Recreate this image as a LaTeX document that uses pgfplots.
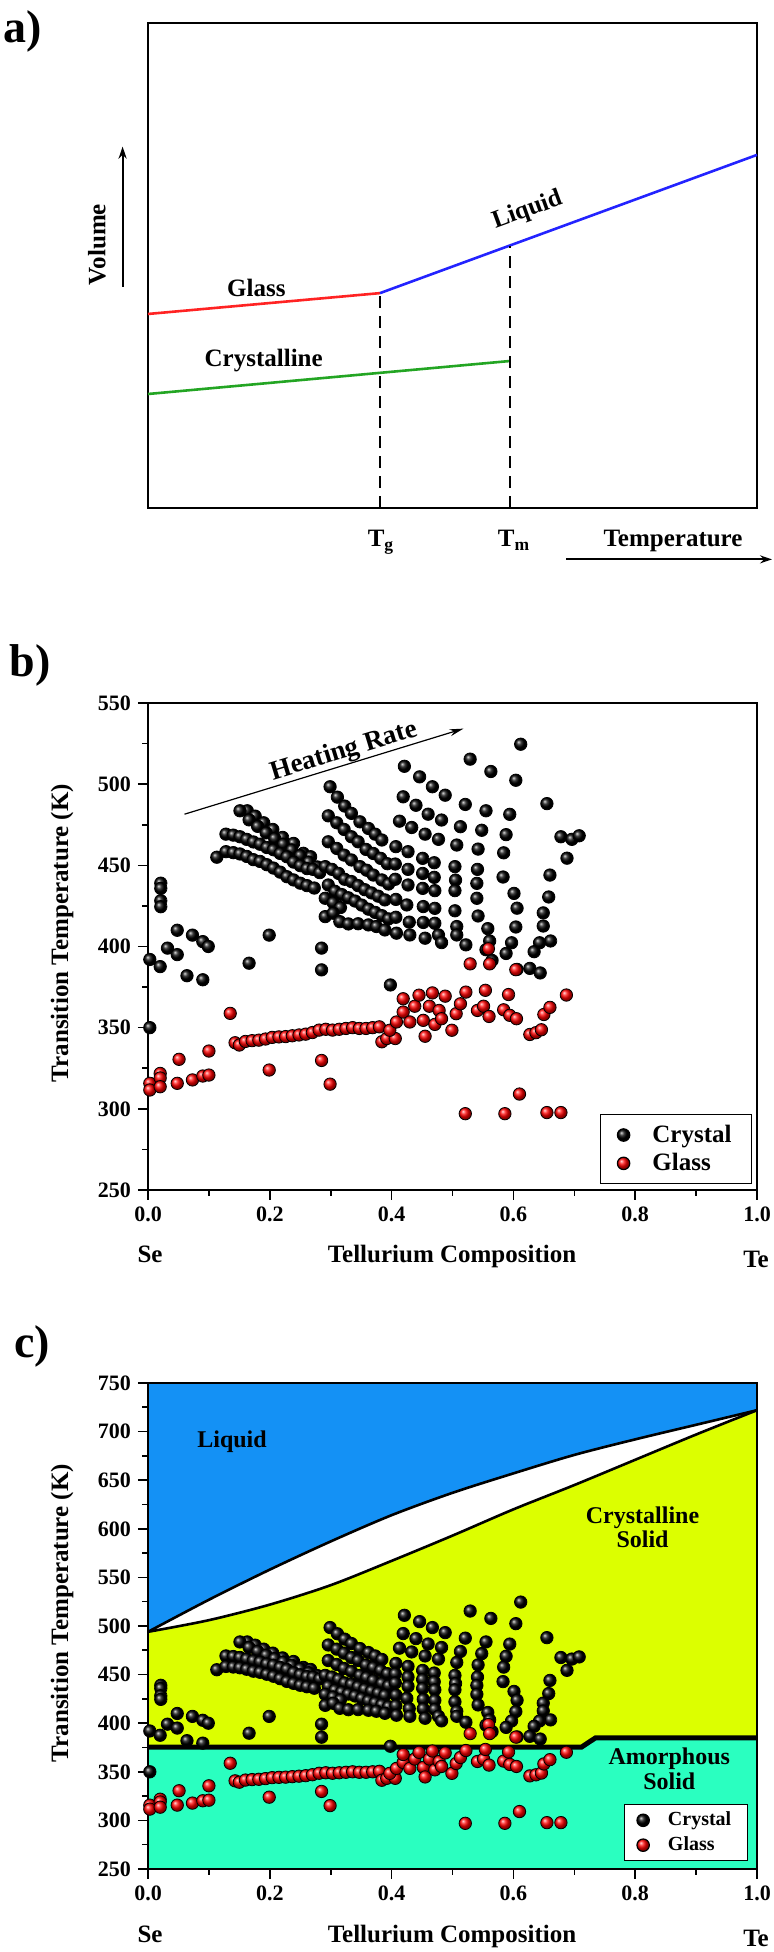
\documentclass[border=0pt]{standalone}
\usepackage{fontspec}
\setmainfont{Liberation Serif}
\usepackage{pgfplots}
\usepackage{pgfplotstable}
\pgfplotsset{compat=1.18}
\usetikzlibrary{plotmarks,arrows.meta}

\definecolor{cblue}{RGB}{20,145,245}
\definecolor{cyell}{RGB}{220,255,0}
\definecolor{cteal}{RGB}{42,255,192}
\definecolor{lred}{RGB}{255,35,35}
\definecolor{lblue}{RGB}{35,35,255}
\definecolor{lgreen}{RGB}{35,165,35}

\pgfplotstableread{
c T
0.003 392
0.003 350
0.021 439
0.021 435.8
0.021 428.2
0.021 424.5
0.020 387.6
0.032 399
0.048 410
0.048 395
0.064 382
0.073 407
0.090 403
0.099 400
0.090 379.5
0.166 389.7
0.199 407
0.285 399
0.285 385.6
0.398 376.3
0.163 483.6
0.176 480.3
0.190 476.2
0.205 472.1
0.221 467.2
0.239 463.5
0.255 457.4
0.267 455.3
0.151 483.6
0.166 478
0.180 474
0.194 470
0.208 466.5
0.222 463
0.236 459.5
0.250 456
0.264 452
0.278 449
0.128 469.2
0.140 468.6
0.151 467.6
0.162 466
0.173 464.4
0.184 463
0.195 461
0.206 459.6
0.217 457.3
0.228 455.3
0.239 452
0.250 449.8
0.261 448
0.271 447.5
0.282 445.5
0.113 455
0.128 458.4
0.140 457.8
0.151 457
0.162 455.5
0.173 453.5
0.184 452.4
0.195 450.4
0.206 448.3
0.217 445.8
0.228 443
0.239 441
0.250 439
0.261 437.5
0.273 436
0.299 498.4
0.311 492
0.323 486.5
0.334 482
0.348 476.8
0.362 472.7
0.373 469.2
0.384 465.6
0.296 480.5
0.310 476.2
0.322 472.1
0.334 467.6
0.345 464.5
0.358 459.8
0.370 457.3
0.382 454.3
0.393 451
0.296 464.5
0.310 460.4
0.322 456.3
0.334 453.3
0.348 449.2
0.359 447
0.370 444
0.384 441
0.395 438.5
0.291 449.2
0.302 447.5
0.313 445
0.323 441.4
0.334 440
0.345 437.5
0.356 435
0.367 433
0.378 431
0.389 428.7
0.296 437.9
0.307 434
0.318 432
0.329 430
0.340 428
0.351 425.5
0.362 423
0.373 421
0.384 419
0.395 417
0.291 429.7
0.304 427
0.316 424
0.291 418.4
0.304 420.5
0.315 415.3
0.329 413.9
0.345 414
0.362 413.3
0.375 412.3
0.389 410.2
0.421 511
0.446 504.5
0.467 498.4
0.488 493.2
0.419 492.2
0.440 487
0.460 481.5
0.482 477.9
0.413 477.2
0.433 473.3
0.455 469.2
0.477 466
0.407 461.5
0.427 458.4
0.451 454.3
0.470 451.6
0.406 450.8
0.427 447.5
0.451 445
0.470 442.6
0.406 441.4
0.427 437.9
0.451 435.8
0.471 434.4
0.407 429
0.425 425.6
0.452 424.6
0.471 423.5
0.407 418
0.429 415
0.452 414.8
0.471 414.3
0.408 408.2
0.430 407.1
0.455 405.1
0.477 407.1
0.482 402.4
0.529 515.4
0.521 487.5
0.513 473.8
0.507 462.5
0.504 449.2
0.505 440.9
0.504 434.4
0.504 422
0.507 412.3
0.507 407.1
0.522 401
0.563 507.8
0.555 483.6
0.548 471.6
0.542 460
0.541 447.5
0.540 438.9
0.540 429.7
0.542 418.8
0.558 411
0.561 403.4
0.555 398
0.565 391.4
0.612 524.6
0.604 502.4
0.594 481.4
0.588 468.9
0.584 457.7
0.583 442.8
0.601 432.7
0.606 423.6
0.604 412
0.597 402.3
0.588 395.7
0.606 385.9
0.655 488
0.660 444
0.658 430.5
0.649 420.7
0.649 412.6
0.661 403.4
0.643 402.3
0.634 396.8
0.627 386.5
0.644 383.7
0.678 467.6
0.696 466
0.708 468.2
0.688 454.4
}\crystal

\pgfplotstableread{
c T
0.003 315.7
0.003 311.6
0.020 321.8
0.020 319
0.020 313.6
0.048 315.7
0.051 330.5
0.073 317.8
0.090 320.2
0.100 320.8
0.100 335.6
0.135 358.8
0.143 340.7
0.150 339.3
0.160 341.5
0.171 342
0.182 342.3
0.193 343
0.204 344
0.215 344.3
0.226 344.5
0.237 345
0.248 345.5
0.259 346
0.270 347
0.281 348.5
0.292 349
0.303 348.5
0.314 349
0.325 349.5
0.336 350
0.347 349.5
0.358 349.5
0.369 350
0.380 350.5
0.199 323.9
0.285 329.8
0.299 315.2
0.384 341.3
0.392 343.3
0.406 343.3
0.397 348.4
0.408 353.5
0.419 359.6
0.419 367.8
0.430 353.5
0.438 363.2
0.445 370
0.452 354.5
0.455 344.7
0.462 363.2
0.467 371.4
0.471 352
0.478 360.6
0.482 355.5
0.488 369.4
0.499 348.4
0.506 358.6
0.513 364.7
0.522 371.9
0.529 389.3
0.541 360.6
0.551 363.2
0.554 373
0.559 398.6
0.561 389.3
0.560 356.9
0.584 361
0.592 370.4
0.594 357.6
0.605 355.5
0.604 385.7
0.610 309.1
0.521 297
0.586 297
0.627 345.8
0.637 346.9
0.646 348.7
0.650 358.1
0.660 362.5
0.687 370.1
0.655 297.7
0.678 297.7
}\glass

\pgfplotsset{
  phase/.style={
    width=304.5pt, scale only axis, anchor=south west,
    xmin=0, xmax=1, ymin=250,
    xtick={0,0.2,0.4,0.6,0.8,1.0},
    minor x tick num=1, minor y tick num=1,
    tick align=outside, tick pos=left,
    major tick length=5pt, minor tick length=3pt,
    every tick/.style={black, line width=0.8pt},
    axis line style={line width=1pt},
    tick label style={font=\bfseries\fontsize{11}{13}\selectfont},
    /pgf/number format/assume math mode=true,
    xticklabel style={/pgf/number format/.cd, fixed, fixed zerofill, precision=1},
    yticklabel style={/pgf/number format/.cd, fixed, precision=0},
    legend cell align=left,
  },
  crys/.style={only marks, mark=ball, mark size=3.1pt, mark options={ball color=black}},
  glas/.style={only marks, mark=ball, mark size=3.1pt, mark options={ball color=red}},
}

\begin{document}
\begin{tikzpicture}
\useasboundingbox (0,0) rectangle (387pt,976pt);

% ---------------- panel a ----------------
\begin{axis}[at={(74pt,722pt)}, anchor=south west, width=304.5pt, height=242.5pt,
  scale only axis, xmin=0, xmax=100, ymin=0, ymax=100,
  xtick=\empty, ytick=\empty, axis line style={line width=1pt}, clip=false]
\addplot[lred, line width=1.3pt] coordinates {(0,40) (38.1,44.3)};
\addplot[lblue, line width=1.3pt] coordinates {(38.1,44.3) (100,72.8)};
\addplot[lgreen, line width=1.3pt] coordinates {(0,23.5) (59.4,30.3)};
\addplot[black, line width=1.2pt, dash pattern=on 6pt off 4pt] coordinates {(38.1,0) (38.1,44.3)};
\addplot[black, line width=1.2pt, dash pattern=on 6pt off 4pt] coordinates {(59.4,0) (59.4,54.1)};
\node[font=\bfseries\fontsize{12.5}{14}\selectfont] at (axis cs:17.8,45.4) {Glass};
\node[font=\bfseries\fontsize{12.5}{14}\selectfont] at (axis cs:19,30.3) {Crystalline};
\node[font=\bfseries\fontsize{12.5}{14}\selectfont, rotate=20, inner sep=0pt] at (axis cs:62.3,61.3) {Liquid};
\end{axis}
\node[font=\bfseries\fontsize{23}{26}\selectfont] at (11.5pt,960.5pt) {a)};
\node[font=\bfseries\fontsize{12.5}{14}\selectfont, rotate=90] at (48.5pt,853.7pt) {Volume};
\draw[line width=1pt, -{Stealth[length=6pt,width=4pt]}] (61.3pt,832.7pt) -- (61.3pt,902.7pt);
\node[anchor=base, font=\bfseries\fontsize{12.5}{14}\selectfont] at (190.5pt,702.7pt) {T\textsubscript{g}};
\node[anchor=base, font=\bfseries\fontsize{12.5}{14}\selectfont] at (257pt,702.7pt) {T\textsubscript{m}};
\node[anchor=base, font=\bfseries\fontsize{12.5}{14}\selectfont] at (336.5pt,702.7pt) {Temperature};
\draw[line width=1pt, -{Stealth[length=6pt,width=4pt]}] (283pt,696.3pt) -- (386pt,696.3pt);

% ---------------- panel b ----------------
\begin{axis}[phase, at={(74pt,381pt)}, height=243.5pt, ymax=550,
  ytick={250,300,350,400,450,500,550},
  legend style={at={(0.992,0.012)}, anchor=south east, draw=black, line width=0.6pt,
    font=\bfseries\fontsize{12.5}{14}\selectfont, inner xsep=8pt, inner ysep=3pt,
    /tikz/every odd column/.append style={column sep=9pt}}]
\addplot[crys] table[x=c,y=T] {\crystal};
\addlegendentry{Crystal}
\addplot[glas] table[x=c,y=T] {\glass};
\addlegendentry{Glass}
\addplot[forget plot, black, line width=0.6pt, -{Stealth[length=7pt,width=3.5pt]}] coordinates {(0.06,481.5) (0.518,534.2)};
\node[rotate=17, font=\bfseries\fontsize{13.5}{15}\selectfont] at (axis cs:0.322,520) {Heating Rate};
\end{axis}
\node[font=\bfseries\fontsize{23}{26}\selectfont] at (15pt,643.5pt) {b)};
\node[rotate=90, font=\bfseries\fontsize{12.5}{14}\selectfont] at (31pt,509.5pt) {Transition Temperature (K)};
\node[anchor=base, font=\bfseries\fontsize{12.5}{14}\selectfont] at (75pt,344.5pt) {Se};
\node[anchor=base, font=\bfseries\fontsize{12.5}{14}\selectfont] at (226pt,344.5pt) {Tellurium Composition};
\node[anchor=base, font=\bfseries\fontsize{12.5}{14}\selectfont] at (378pt,342pt) {Te};

% ---------------- panel c ----------------
\begin{axis}[phase, at={(74pt,41.5pt)}, height=243pt, ymax=750,
  ytick={250,300,350,400,450,500,550,600,650,700,750},
  axis on top, axis background/.style={fill=cblue},
  legend style={at={(0.985,0.016)}, anchor=south east, draw=black, line width=0.6pt,
    font=\bfseries\fontsize{10}{12}\selectfont, inner xsep=6pt, inner ysep=1.5pt,
    /tikz/every odd column/.append style={column sep=7pt}}]
\addplot[forget plot, draw=none, fill=white] coordinates {(0,494) (0.1,527) (0.2,558) (0.3,587) (0.4,614) (0.5,637) (0.6,657) (0.7,676) (0.8,692) (0.9,707) (1,722)} \closedcycle;
\addplot[forget plot, draw=none, fill=cyell] coordinates {(0,494) (0.1,506) (0.2,522) (0.3,542) (0.4,567) (0.5,593) (0.6,620) (0.7,645) (0.8,671) (0.9,697) (1,722)} \closedcycle;
\addplot[forget plot, draw=none, fill=cteal] coordinates {(0,375.5) (0.712,375.5) (0.735,385) (1,385)} \closedcycle;
\addplot[forget plot, smooth, black, line width=1.3pt] coordinates {(0,494) (0.1,527) (0.2,558) (0.3,587) (0.4,614) (0.5,637) (0.6,657) (0.7,676) (0.8,692) (0.9,707) (1,722)};
\addplot[forget plot, smooth, black, line width=1.3pt] coordinates {(0,494) (0.1,506) (0.2,522) (0.3,542) (0.4,567) (0.5,593) (0.6,620) (0.7,645) (0.8,671) (0.9,697) (1,722)};
\addplot[forget plot, black, line width=2.5pt] coordinates {(0,375.5) (0.712,375.5) (0.735,385) (1,385)};
\addplot[crys] table[x=c,y=T] {\crystal};
\addlegendentry{Crystal}
\addplot[glas] table[x=c,y=T] {\glass};
\addlegendentry{Glass}
\node[font=\bfseries\fontsize{12}{14}\selectfont] at (axis cs:0.138,689.6) {Liquid};
\node[font=\bfseries\fontsize{12}{12.2}\selectfont, align=center] at (axis cs:0.812,601.6) {Crystalline\\Solid};
\node[font=\bfseries\fontsize{12}{12.2}\selectfont, align=center] at (axis cs:0.856,353) {Amorphous\\Solid};
\end{axis}
\node[font=\bfseries\fontsize{23}{26}\selectfont] at (16pt,303pt) {c)};
\node[rotate=90, font=\bfseries\fontsize{12.5}{14}\selectfont] at (31pt,169.5pt) {Transition Temperature (K)};
\node[anchor=base, font=\bfseries\fontsize{12.5}{14}\selectfont] at (75pt,5pt) {Se};
\node[anchor=base, font=\bfseries\fontsize{12.5}{14}\selectfont] at (226pt,5pt) {Tellurium Composition};
\node[anchor=base, font=\bfseries\fontsize{12.5}{14}\selectfont] at (378pt,2.5pt) {Te};
\end{tikzpicture}
\end{document}
